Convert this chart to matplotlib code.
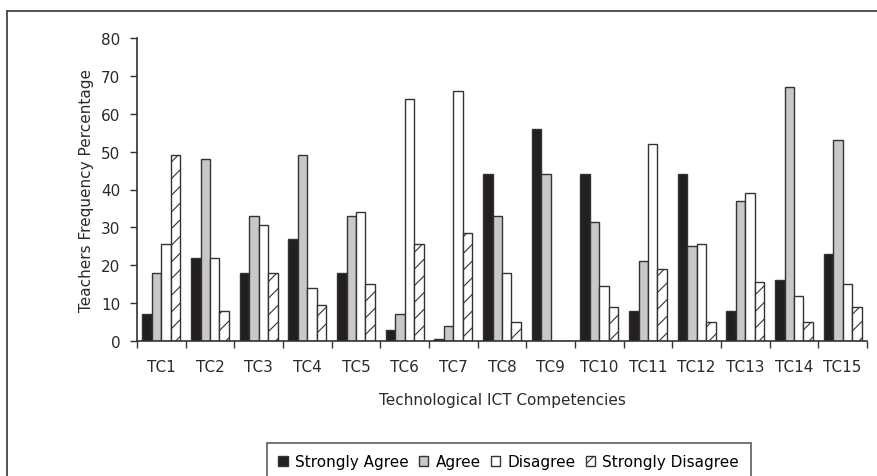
import matplotlib
matplotlib.use("Agg")
import matplotlib.pyplot as plt
import numpy as np
from matplotlib.lines import Line2D
from matplotlib.patches import Patch

plt.rcParams['font.family'] = ['DejaVu Sans']
plt.rcParams['hatch.linewidth'] = 0.8

categories = ["TC1", "TC2", "TC3", "TC4", "TC5", "TC6", "TC7", "TC8",
              "TC9", "TC10", "TC11", "TC12", "TC13", "TC14", "TC15"]
strongly_agree = [7, 22, 18, 27, 18, 3, 0.5, 44, 56, 44, 8, 44, 8, 16, 23]
agree = [18, 48, 33, 49, 33, 7, 4, 33, 44, 31.5, 21, 25, 37, 67, 53]
disagree = [25.5, 22, 30.5, 14, 34, 64, 66, 18, 0, 14.5, 52, 25.5, 39, 12, 15]
strongly_disagree = [49, 8, 18, 9.5, 15, 25.5, 28.5, 5, 0, 9, 19, 5, 15.5, 5, 9]
series_names = ["Strongly Agree", "Agree", "Disagree", "Strongly Disagree"]
yticks = [0, 10, 20, 30, 40, 50, 60, 70, 80]

FS = 11
TXT = '#2a2a2a'

fig = plt.figure(figsize=(8.77, 4.77), dpi=100)
ax = fig.add_axes([137/877, 1-342/477, (867-137)/877, (342-39)/477])

x = np.arange(len(categories))
w = 0.195
edge = '#333333'
styles = [
    dict(color='#231f20', hatch=None),
    dict(color='#c8c8c8', hatch=None),
    dict(color='white', hatch=None),
    dict(color='white', hatch='//'),
]
data = [strongly_agree, agree, disagree, strongly_disagree]
handles = []
for i, (vals, st, name) in enumerate(zip(data, styles, series_names)):
    ax.bar(x + (i - 1.5) * w, vals, width=w, facecolor=st['color'],
           edgecolor=edge, linewidth=1.0, hatch=st['hatch'], label=name)
    handles.append(Patch(facecolor=st['color'], edgecolor=edge, linewidth=1.0,
                         hatch=st['hatch'], label=name))

ax.set_xlim(-0.5, len(categories) - 0.5)
ax.set_ylim(0, 80)
ax.set_yticks(yticks)
ax.set_xticks(np.arange(len(categories) + 1) - 0.5)
ax.set_xticklabels([])
ax.set_xticks(x, minor=True)
ax.set_xticklabels(categories, minor=True)
ax.tick_params(axis='x', which='minor', length=0, pad=13, labelsize=FS, colors=TXT)
ax.tick_params(axis='x', which='major', length=5, direction='out', width=1, color='#333333')
ax.tick_params(axis='y', length=5, width=1, labelsize=FS, colors=TXT, pad=7)
ax.tick_params(axis='y', color='#333333')
for s in ['top', 'right']:
    ax.spines[s].set_visible(False)
for s in ['left', 'bottom']:
    ax.spines[s].set_linewidth(1.2)
    ax.spines[s].set_color('#333333')

ax.set_ylabel("Teachers Frequency Percentage", fontsize=FS, color=TXT, labelpad=5)
ax.set_xlabel("Technological ICT Competencies", fontsize=FS, color=TXT, labelpad=13)

# outer frame (left & top visible)
fig.add_artist(Line2D([7/877, 7/877], [0, 1-12/477], transform=fig.transFigure,
                      color='#444444', linewidth=1.3))
fig.add_artist(Line2D([7/877, 1.0], [1-12/477, 1-12/477], transform=fig.transFigure,
                      color='#444444', linewidth=1.3))

leg = fig.legend(handles=handles, loc='upper left', bbox_to_anchor=(267/877, 1-444/477),
                 ncol=4, fontsize=FS, frameon=True, fancybox=False, edgecolor='#333333',
                 handlelength=0.6, handleheight=0.6, handletextpad=0.5, columnspacing=0.65,
                 borderpad=0.75, borderaxespad=0)
leg.get_frame().set_linewidth(1.2)

fig.savefig("out.png", dpi=100)
